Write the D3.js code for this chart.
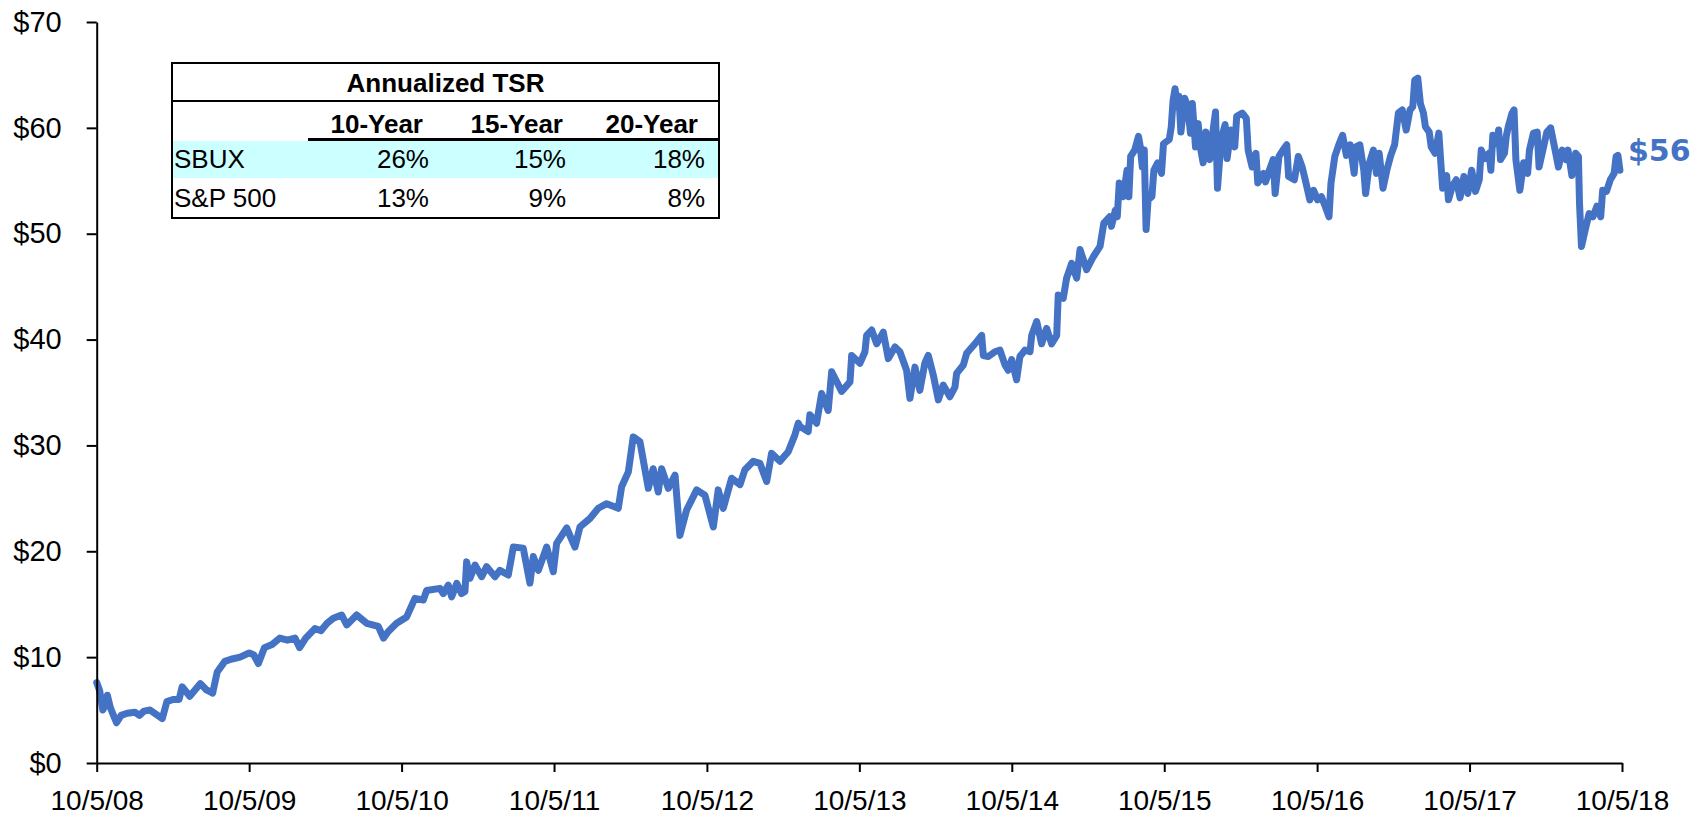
<!DOCTYPE html>
<html>
<head>
<meta charset="utf-8">
<script src="https://cdn.jsdelivr.net/npm/d3@7"></script>
<style>
  html, body { margin: 0; padding: 0; background: #fff; }
  svg { display: block; }
  text { font-family: "Liberation Sans", Arial, sans-serif; fill: #000; }
</style>
</head>
<body>
<svg id="chart" width="1704" height="815"></svg>
<script>
// ---------------- DATA ----------------
const startDate = "2008-10-05";
// time of each reading, in years after 10/5/08
const yearsAfterStart = [
  0.000,0.020,0.040,0.060,0.070,0.090,0.130,0.160,0.200,0.250,0.280,0.310,0.350,0.390,0.430,0.460,0.500,0.540,0.560,0.610,
  0.680,0.720,0.760,0.790,0.840,0.880,0.940,1.000,1.030,1.060,1.100,1.150,1.200,1.250,1.300,1.330,1.370,1.430,1.470,1.510,
  1.551,1.606,1.639,1.704,1.770,1.846,1.880,1.910,1.966,2.032,2.086,2.141,2.163,2.250,2.272,2.305,2.327,2.360,2.392,2.414,
  2.425,2.447,2.480,2.524,2.556,2.611,2.643,2.698,2.731,2.796,2.840,2.862,2.895,2.950,2.993,3.015,3.081,3.135,3.168,3.233,
  3.288,3.343,3.419,3.441,3.485,3.517,3.561,3.616,3.648,3.681,3.703,3.747,3.791,3.823,3.867,3.933,3.987,4.042,4.074,4.107,
  4.162,4.217,4.249,4.304,4.348,4.392,4.424,4.479,4.533,4.577,4.599,4.610,4.664,4.675,4.719,4.752,4.795,4.818,4.883,4.938,
  4.949,5.003,5.036,5.047,5.080,5.113,5.156,5.189,5.233,5.265,5.309,5.331,5.364,5.396,5.429,5.451,5.484,5.517,5.549,5.593,
  5.626,5.637,5.681,5.703,5.757,5.801,5.812,5.845,5.888,5.921,5.954,5.975,5.998,6.030,6.052,6.085,6.118,6.129,6.162,6.194,
  6.227,6.260,6.293,6.303,6.336,6.358,6.391,6.424,6.446,6.489,6.532,6.577,6.602,6.640,6.652,6.677,6.690,6.703,6.729,6.754,
  6.766,6.778,6.804,6.829,6.841,6.854,6.867,6.879,6.892,6.917,6.930,6.955,6.980,6.993,7.031,7.044,7.056,7.069,7.081,7.094,
  7.107,7.119,7.132,7.152,7.170,7.182,7.203,7.220,7.238,7.253,7.271,7.296,7.321,7.334,7.347,7.371,7.397,7.410,7.435,7.460,
  7.473,7.510,7.536,7.548,7.574,7.599,7.611,7.649,7.662,7.687,7.712,7.725,7.750,7.776,7.801,7.813,7.851,7.877,7.902,7.927,
  7.952,7.977,8.003,8.028,8.053,8.078,8.091,8.116,8.142,8.167,8.192,8.217,8.243,8.255,8.280,8.306,8.318,8.343,8.369,8.389,
  8.407,8.432,8.457,8.483,8.508,8.533,8.558,8.584,8.609,8.627,8.640,8.660,8.677,8.697,8.710,8.735,8.748,8.773,8.798,8.811,
  8.823,8.849,8.861,8.887,8.912,8.937,8.962,8.988,9.013,9.038,9.063,9.076,9.101,9.127,9.139,9.152,9.177,9.190,9.202,9.228,
  9.240,9.253,9.278,9.291,9.303,9.329,9.354,9.380,9.392,9.418,9.443,9.455,9.480,9.506,9.531,9.556,9.582,9.607,9.632,9.645,
  9.670,9.695,9.713,9.720,9.733,9.758,9.783,9.808,9.834,9.859,9.872,9.897,9.922,9.947,9.960,9.972,9.985
];
// SBUX share price, $
const prices = [
  7.6,6.8,5.0,5.6,6.4,5.2,3.8,4.5,4.7,4.8,4.5,4.9,5.0,4.6,4.2,5.8,6.0,6.0,7.2,6.3,
  7.5,6.9,6.6,8.6,9.6,9.8,10.0,10.4,10.2,9.4,10.9,11.2,11.8,11.6,11.8,10.9,11.8,12.7,12.5,13.2,
  13.67,13.98,13.04,13.98,13.2,12.9,11.8,12.4,13.2,13.8,15.55,15.4,16.3,16.5,16.0,16.8,15.7,16.97,16.0,16.2,
  19.0,17.45,18.7,17.6,18.55,17.6,18.2,17.76,20.4,20.3,17.0,19.5,18.2,20.4,18.07,20.75,22.2,20.4,22.3,23.1,
  24.06,24.5,24.06,26.1,27.5,30.8,30.35,25.95,27.8,25.6,27.8,25.95,27.2,21.5,23.9,25.8,25.3,22.3,25.8,24.06,
  26.9,26.3,27.7,28.5,28.3,26.6,29.25,28.5,29.4,31.0,32.1,31.8,31.3,32.9,32.1,34.9,33.3,36.96,35.1,36.0,
  38.5,37.76,38.85,40.4,40.9,39.6,40.7,38.2,39.3,38.85,37.1,34.45,37.4,35.2,37.8,38.5,36.65,34.3,35.7,34.6,
  35.5,36.8,37.6,38.7,39.6,40.4,38.5,38.4,38.85,39.0,37.6,37.1,38.1,36.2,38.4,39.0,38.85,40.4,41.7,39.6,
  41.05,39.6,40.4,44.2,43.9,45.8,47.2,45.8,48.5,46.6,47.8,48.8,51.0,51.6,50.7,52.2,51.6,54.8,53.5,56.0,
  53.5,57.3,57.9,59.2,58.2,56.3,57.9,50.4,53.2,53.5,56.0,56.7,55.7,58.5,58.9,60.1,62.6,63.7,62.0,63.0,
  59.6,61.1,62.8,62.0,59.5,62.3,58.2,60.4,57.9,56.7,59.6,57.0,60.1,61.5,54.3,58.9,60.3,57.1,59.8,58.2,
  61.1,61.4,60.9,57.9,56.3,57.6,54.8,55.7,54.9,56.0,57.0,53.8,57.3,57.9,58.4,55.4,55.1,57.3,56.3,54.8,
  53.2,54.1,53.2,53.5,52.6,51.6,54.8,57.3,58.4,59.3,57.4,58.4,55.7,58.2,58.4,56.0,53.8,56.7,57.9,55.7,
  57.6,54.3,56.0,57.4,58.4,61.4,61.7,59.8,61.7,62.0,64.5,64.7,62.3,61.4,60.1,59.6,58.2,57.6,59.5,56.7,
  54.3,55.5,53.2,54.5,55.1,53.4,55.4,53.8,56.0,54.0,55.1,57.9,57.1,57.6,56.0,59.3,58.5,59.8,57.0,57.6,
  59.2,60.1,61.4,61.7,57.0,54.1,56.7,55.7,57.9,59.5,59.6,56.3,57.9,59.6,60.0,58.2,56.3,57.9,57.0,57.9,
  55.5,57.6,57.3,52.9,48.8,50.4,51.9,51.6,52.6,51.6,54.1,54.0,55.1,55.7,57.3,57.4,56.0
];
const endLabel = "$56";

const xTickLabels = ["10/5/08","10/5/09","10/5/10","10/5/11","10/5/12","10/5/13","10/5/14","10/5/15","10/5/16","10/5/17","10/5/18"];
const yTickValues = [0, 10, 20, 30, 40, 50, 60, 70];

const tableTitle = "Annualized TSR";
const tablePeriods = ["10-Year", "15-Year", "20-Year"];
const tableRowNames = ["SBUX", "S&P 500"];
const sbuxTSR = [26, 15, 18];
const sp500TSR = [13, 9, 8];

// ---------------- CHART ----------------
const svg = d3.select("#chart");
const parse = s => { const [m, d, y] = s.split("/").map(Number); return new Date(2000 + y, m - 1, d); };
const tickDates = xTickLabels.map(parse);
const start = d3.timeParse("%Y-%m-%d")(startDate);
const DAY = 864e5;
const series = yearsAfterStart.map((t, i) => ({ date: new Date(start.getTime() + t * 365.25 * DAY), v: prices[i] }));

const x = d3.scaleTime().domain([tickDates[0], tickDates[tickDates.length - 1]]).range([96.7, 1622]);
const y = d3.scaleLinear().domain([0, 70]).range([763, 22]);

// line
svg.append("path")
  .datum(series)
  .attr("fill", "none")
  .attr("stroke", "#4472C4")
  .attr("stroke-width", 7)
  .attr("stroke-linejoin", "round")
  .attr("stroke-linecap", "round")
  .attr("d", d3.line().x(d => x(d.date)).y(d => y(d.v)));

// axes
const yAxis = d3.axisLeft(y).tickValues(yTickValues).tickFormat(v => "$" + v)
  .tickSize(10).tickSizeOuter(0).tickPadding(25);
const gy = svg.append("g").attr("transform", "translate(96.7,0)").call(yAxis);

const xAxis = d3.axisBottom(x).tickValues(tickDates).tickFormat((d, i) => xTickLabels[i])
  .tickSize(9).tickSizeOuter(0).tickPadding(18);
const gx = svg.append("g").attr("transform", "translate(0,763)").call(xAxis);

[gx, gy].forEach(g => {
  g.selectAll("path.domain").attr("stroke", "#000").attr("stroke-width", 2);
  g.selectAll(".tick line").attr("stroke", "#000").attr("stroke-width", 2);
  g.selectAll(".tick text")
    .style("font-family", '"Liberation Sans", Arial, sans-serif')
    .style("font-size", "29px").attr("fill", "#000");
});
gx.selectAll(".tick text").style("font-size", "28px").attr("dy", "0.71em");

// end label
const last = series[series.length - 1];
svg.append("text")
  .attr("x", x(last.date) + 8)
  .attr("y", y(last.v) - 9)
  .style("font-family", '"DejaVu Sans", Verdana, sans-serif')
  .style("font-weight", "bold")
  .style("font-size", "30px")
  .attr("fill", "#4472C4")
  .style("fill", "#4472C4")
  .text(endLabel);

// ---------------- TABLE ----------------
const tb = { x0: 172, x1: 719, y0: 63, y1: 218 };
const tg = svg.append("g");
tg.append("rect").attr("x", tb.x0).attr("y", 141).attr("width", tb.x1 - tb.x0).attr("height", 37).attr("fill", "#CCFFFF");
tg.append("rect").attr("x", tb.x0).attr("y", tb.y0).attr("width", tb.x1 - tb.x0).attr("height", tb.y1 - tb.y0)
  .attr("fill", "none").attr("stroke", "#000").attr("stroke-width", 2);
tg.append("line").attr("x1", tb.x0).attr("x2", tb.x1).attr("y1", 101).attr("y2", 101).attr("stroke", "#000").attr("stroke-width", 2);
tg.append("line").attr("x1", 308).attr("x2", tb.x1).attr("y1", 139.5).attr("y2", 139.5).attr("stroke", "#000").attr("stroke-width", 3);

tg.append("text").attr("x", (tb.x0 + tb.x1) / 2).attr("y", 92).attr("text-anchor", "middle")
  .style("font-weight", "bold").style("font-size", "26px").text(tableTitle);

const headRight = [423, 563, 698];
const valRight = [429, 566, 705];
tablePeriods.forEach((p, i) => {
  tg.append("text").attr("x", headRight[i]).attr("y", 133).attr("text-anchor", "end")
    .style("font-weight", "bold").style("font-size", "26px").text(p);
});
const rows = [sbuxTSR, sp500TSR];
const rowBase = [168, 207];
rows.forEach((vals, r) => {
  tg.append("text").attr("x", 174).attr("y", rowBase[r]).style("font-size", "26px").text(tableRowNames[r]);
  vals.forEach((v, i) => {
    tg.append("text").attr("x", valRight[i]).attr("y", rowBase[r]).attr("text-anchor", "end")
      .style("font-size", "26px").text(v + "%");
  });
});
</script>
</body>
</html>
